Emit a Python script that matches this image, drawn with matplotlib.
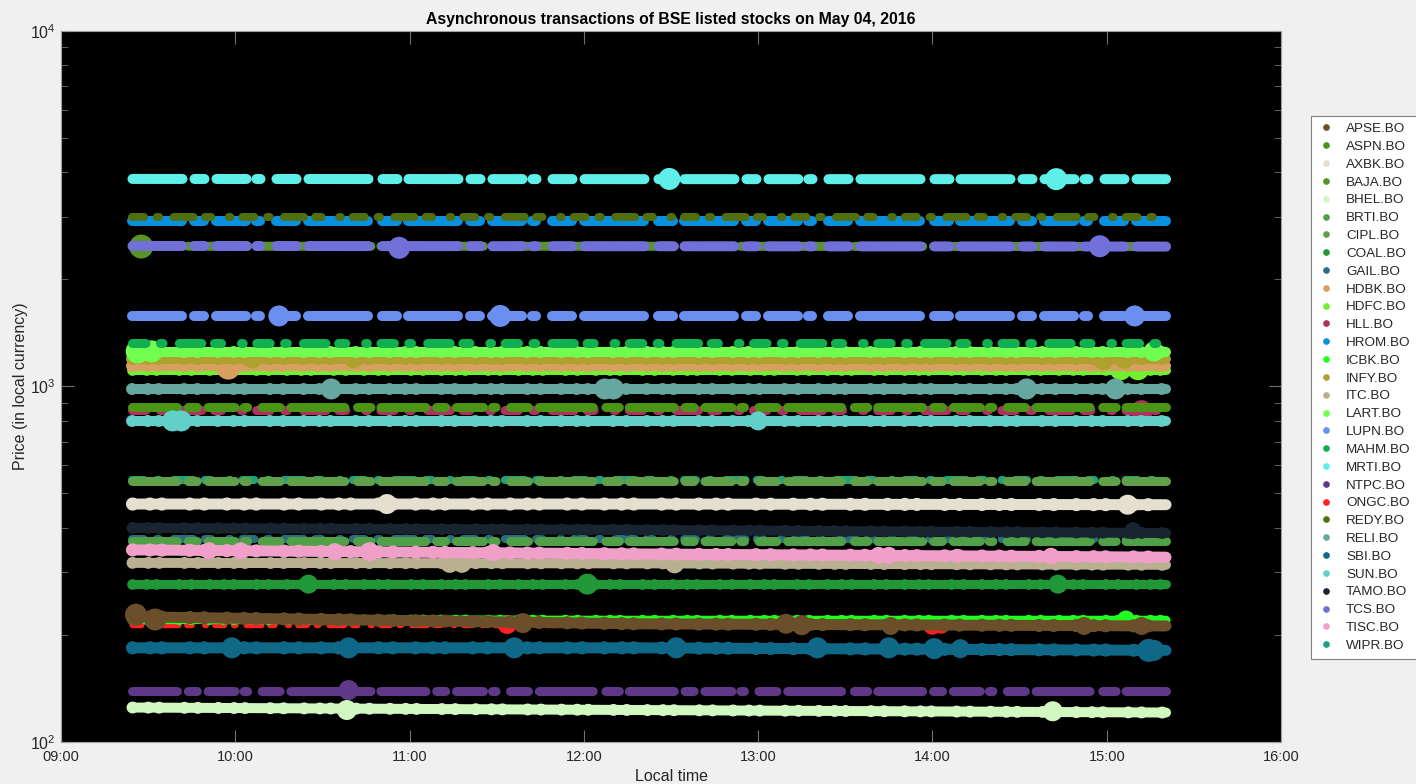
import matplotlib
matplotlib.use("Agg")
import matplotlib.pyplot as plt
from matplotlib.lines import Line2D

plt.rcParams['font.family'] = ['Liberation Sans', 'DejaVu Sans']

# tickers in legend order
tickers = ['APSE.BO', 'ASPN.BO', 'AXBK.BO', 'BAJA.BO', 'BHEL.BO', 'BRTI.BO',
           'CIPL.BO', 'COAL.BO', 'GAIL.BO', 'HDBK.BO', 'HDFC.BO', 'HLL.BO',
           'HROM.BO', 'ICBK.BO', 'INFY.BO', 'ITC.BO', 'LART.BO', 'LUPN.BO',
           'MAHM.BO', 'MRTI.BO', 'NTPC.BO', 'ONGC.BO', 'REDY.BO', 'RELI.BO',
           'SBI.BO', 'SUN.BO', 'TAMO.BO', 'TCS.BO', 'TISC.BO', 'WIPR.BO']

colors = ['#6b4f2a', '#4c9414', '#e5dfd0', '#5a9426', '#d0f8c0', '#50a048',
          '#60a048', '#209838', '#2a6e80', '#d8a060', '#70f030', '#b03060',
          '#0a90e0', '#20ff20', '#b0a030', '#b8b090', '#70ff50', '#6a8ff0',
          '#10b050', '#5ef0e8', '#603888', '#ff2020', '#507010', '#66a8a0',
          '#106888', '#60d0c8', '#182430', '#7070d8', '#f0a0c8', '#20a080']

# session times (hours) and price at open / midday / close
t_session = [9.41, 12.3, 15.34]
px_open = [225, 876, 467, 2480, 125, 368, 542, 278, 372, 1142, 1110, 858,
           2921, 221, 1195, 319, 1250, 1579, 1326, 3835, 139, 213, 2998, 984,
           184, 800, 400, 2485, 347, 546]
px_mid = [215, 876, 467, 2480, 123, 368, 542, 278, 372, 1142, 1110, 858,
          2921, 220, 1195, 318, 1250, 1579, 1326, 3830, 139, 213, 2998, 984,
          184, 800, 395, 2480, 338, 546]
px_close = [212, 876, 465, 2475, 121, 368, 542, 278, 372, 1142, 1110, 858,
            2921, 220, 1195, 315, 1250, 1579, 1326, 3830, 139, 211, 2998, 984,
            181, 800, 387, 2475, 331, 546]

# big trades: (time, price, diameter in px)
big_trades = [
    [(9.43, 228, 22), (9.54, 221, 22), (11.65, 216, 20), (13.16, 215, 20),
     (13.25, 213, 20), (13.76, 212, 18), (14.87, 212, 18), (15.2, 212, 18)],
    [],
    [(10.87, 467, 20), (15.12, 465, 20)],
    [(9.46, 2475, 24)],
    [(10.64, 123, 20), (14.69, 122, 20)],
    [], [],
    [(10.42, 278, 19), (12.02, 278, 21), (14.72, 278, 19)],
    [],
    [(9.96, 1130, 24)],
    [(15.08, 1118, 22), (15.18, 1118, 22)],
    [(15.2, 852, 22)],
    [],
    [(15.11, 221, 18)],
    [(10.10, 1195, 19), (10.68, 1195, 19), (14.98, 1195, 22), (15.1, 1195, 20)],
    [(11.23, 318, 19), (11.30, 318, 19), (12.52, 317, 19)],
    [(9.44, 1255, 24), (9.52, 1255, 22), (15.27, 1255, 20)],
    [(10.25, 1579, 21), (11.52, 1579, 22), (15.16, 1579, 21)],
    [],
    [(12.49, 3835, 22), (14.71, 3830, 22)],
    [(10.65, 140, 20)],
    [(11.56, 214, 19), (14.0, 213, 19), (14.05, 213, 17)],
    [],
    [(10.55, 984, 21), (12.12, 984, 21), (12.17, 984, 21), (14.54, 984, 21),
     (15.05, 984, 21)],
    [(9.98, 184, 21), (10.65, 184, 21), (11.6, 184, 21), (12.53, 184, 21),
     (13.34, 184, 21), (13.75, 184, 21), (14.01, 183, 21), (14.16, 183, 19),
     (15.24, 181, 23), (15.27, 181, 21)],
    [(9.64, 800, 21), (9.69, 800, 21), (13.0, 800, 19)],
    [(15.15, 393, 17)],
    [(10.94, 2455, 22), (14.96, 2480, 22)],
    [(9.85, 345, 17), (10.03, 345, 17), (10.57, 343, 17), (10.77, 343, 19),
     (11.48, 341, 17), (13.69, 335, 17), (13.75, 335, 17), (14.14, 334, 14),
     (14.68, 333, 17)],
    [],
]

# strip thickness (px), look of the trade stream, drawing layer
strip_w = [11, 9, 11, 9, 10, 9, 9, 9, 8, 10, 9, 9, 10, 9, 10, 10, 10, 10, 9,
           10, 9, 6, 8, 10, 11, 10, 10, 10, 11, 8]
strip_kind = ['solid', 'gappy', 'solid', 'gappy', 'solid', 'gappy',
              'gappy', 'solid', 'sparse', 'solid', 'solid', 'sparse',
              'gappy', 'solid', 'solid', 'solid', 'solid', 'gappy',
              'sparse', 'gappy', 'gappy', 'sparse', 'sparse', 'solid',
              'solid', 'solid', 'solid', 'gappy', 'solid', 'sparse']
layer = [4, 3, 3, 3, 3, 3, 3, 3, 2, 3, 2, 2, 3, 3, 3, 3, 3, 3, 3, 3,
         3, 2, 3, 3, 3, 3, 3, 3, 3, 2]

dash_styles = {
    'solid': '-',
    'gappy': (0, (5, 1.2, 1, 1.2, 3, 1.0, 0.4, 1.6, 2, 1.2, 6, 1.4, 1.5, 1.1)),
    'sparse': (0, (1.5, 1.6, 0.3, 1.8, 2.5, 1.4, 0.8, 2.2, 0.2, 1.5)),
}
bump_dash = (0, (0.01, 1.3, 0.01, 0.9, 0.01, 2.1, 0.01, 1.1, 0.01, 1.7))

px2pt = 0.72

fig = plt.figure(figsize=(14.16, 7.84), dpi=100, facecolor='#f0f0f0')
ax = fig.add_axes([0.0431, 0.0536, 0.8616, 0.9069])
ax.set_facecolor('black')

for i, name in enumerate(tickers):
    prices = [px_open[i], px_mid[i], px_close[i]]
    lw = strip_w[i] * px2pt
    ax.plot(t_session, prices, color=colors[i], lw=lw,
            ls=dash_styles[strip_kind[i]], solid_capstyle='round',
            dash_capstyle='round', zorder=layer[i])
    if strip_kind[i] == 'solid':
        # small bumps from the individual trade dots
        ax.plot(t_session, prices, color=colors[i], lw=lw * 1.2, ls=bump_dash,
                dash_capstyle='round', zorder=layer[i])
    if big_trades[i]:
        bt = [b[0] for b in big_trades[i]]
        bp = [b[1] for b in big_trades[i]]
        bs = [(b[2] * px2pt) ** 2 for b in big_trades[i]]
        ax.scatter(bt, bp, s=bs, color=colors[i], edgecolors='none',
                   zorder=layer[i])

ax.set_yscale('log')
ax.set_ylim(100, 10000)
ax.set_xlim(9, 16)
hours = list(range(9, 17))
ax.set_xticks(hours)
ax.set_xticklabels(['%02d:00' % h for h in hours])

for s in ax.spines.values():
    s.set_color('#a0a0a0')
ax.tick_params(which='both', direction='in', top=True, right=True,
               color='#707070', labelcolor='#262626')
ax.tick_params(axis='x', labelsize=10.5, pad=6)
ax.tick_params(axis='y', labelsize=11.5, pad=4)
ax.tick_params(which='major', length=9)
ax.tick_params(which='minor', length=5)

ax.set_title('Asynchronous transactions of BSE listed stocks on May 04, 2016',
             fontsize=11.3, fontweight='bold', color='black', pad=5)
ax.set_ylabel('Price (in local currency)', fontsize=11.5, color='#262626')
ax.yaxis.set_label_coords(-0.033, 0.5)
ax.yaxis.label.set_va('center')
ax.set_xlabel('Local time', fontsize=11.5, color='#262626')
ax.xaxis.set_label_coords(0.5, -0.048)
ax.xaxis.label.set_va('center')

handles = [Line2D([], [], marker='o', ls='', color=c, markersize=3.8)
           for c in colors]
leg = fig.legend(handles, tickers, loc='upper left',
                 bbox_to_anchor=(1311 / 1416, 1 - 116 / 784),
                 borderaxespad=0, fontsize=9.7, frameon=True, fancybox=False,
                 framealpha=1, edgecolor='#808080', handlelength=1.3,
                 handletextpad=0.8, labelspacing=0.40, borderpad=0.5)
leg.get_frame().set_linewidth(0.8)
for t in leg.get_texts():
    t.set_color('#262626')

fig.savefig('out.png', dpi=100, facecolor=fig.get_facecolor())
